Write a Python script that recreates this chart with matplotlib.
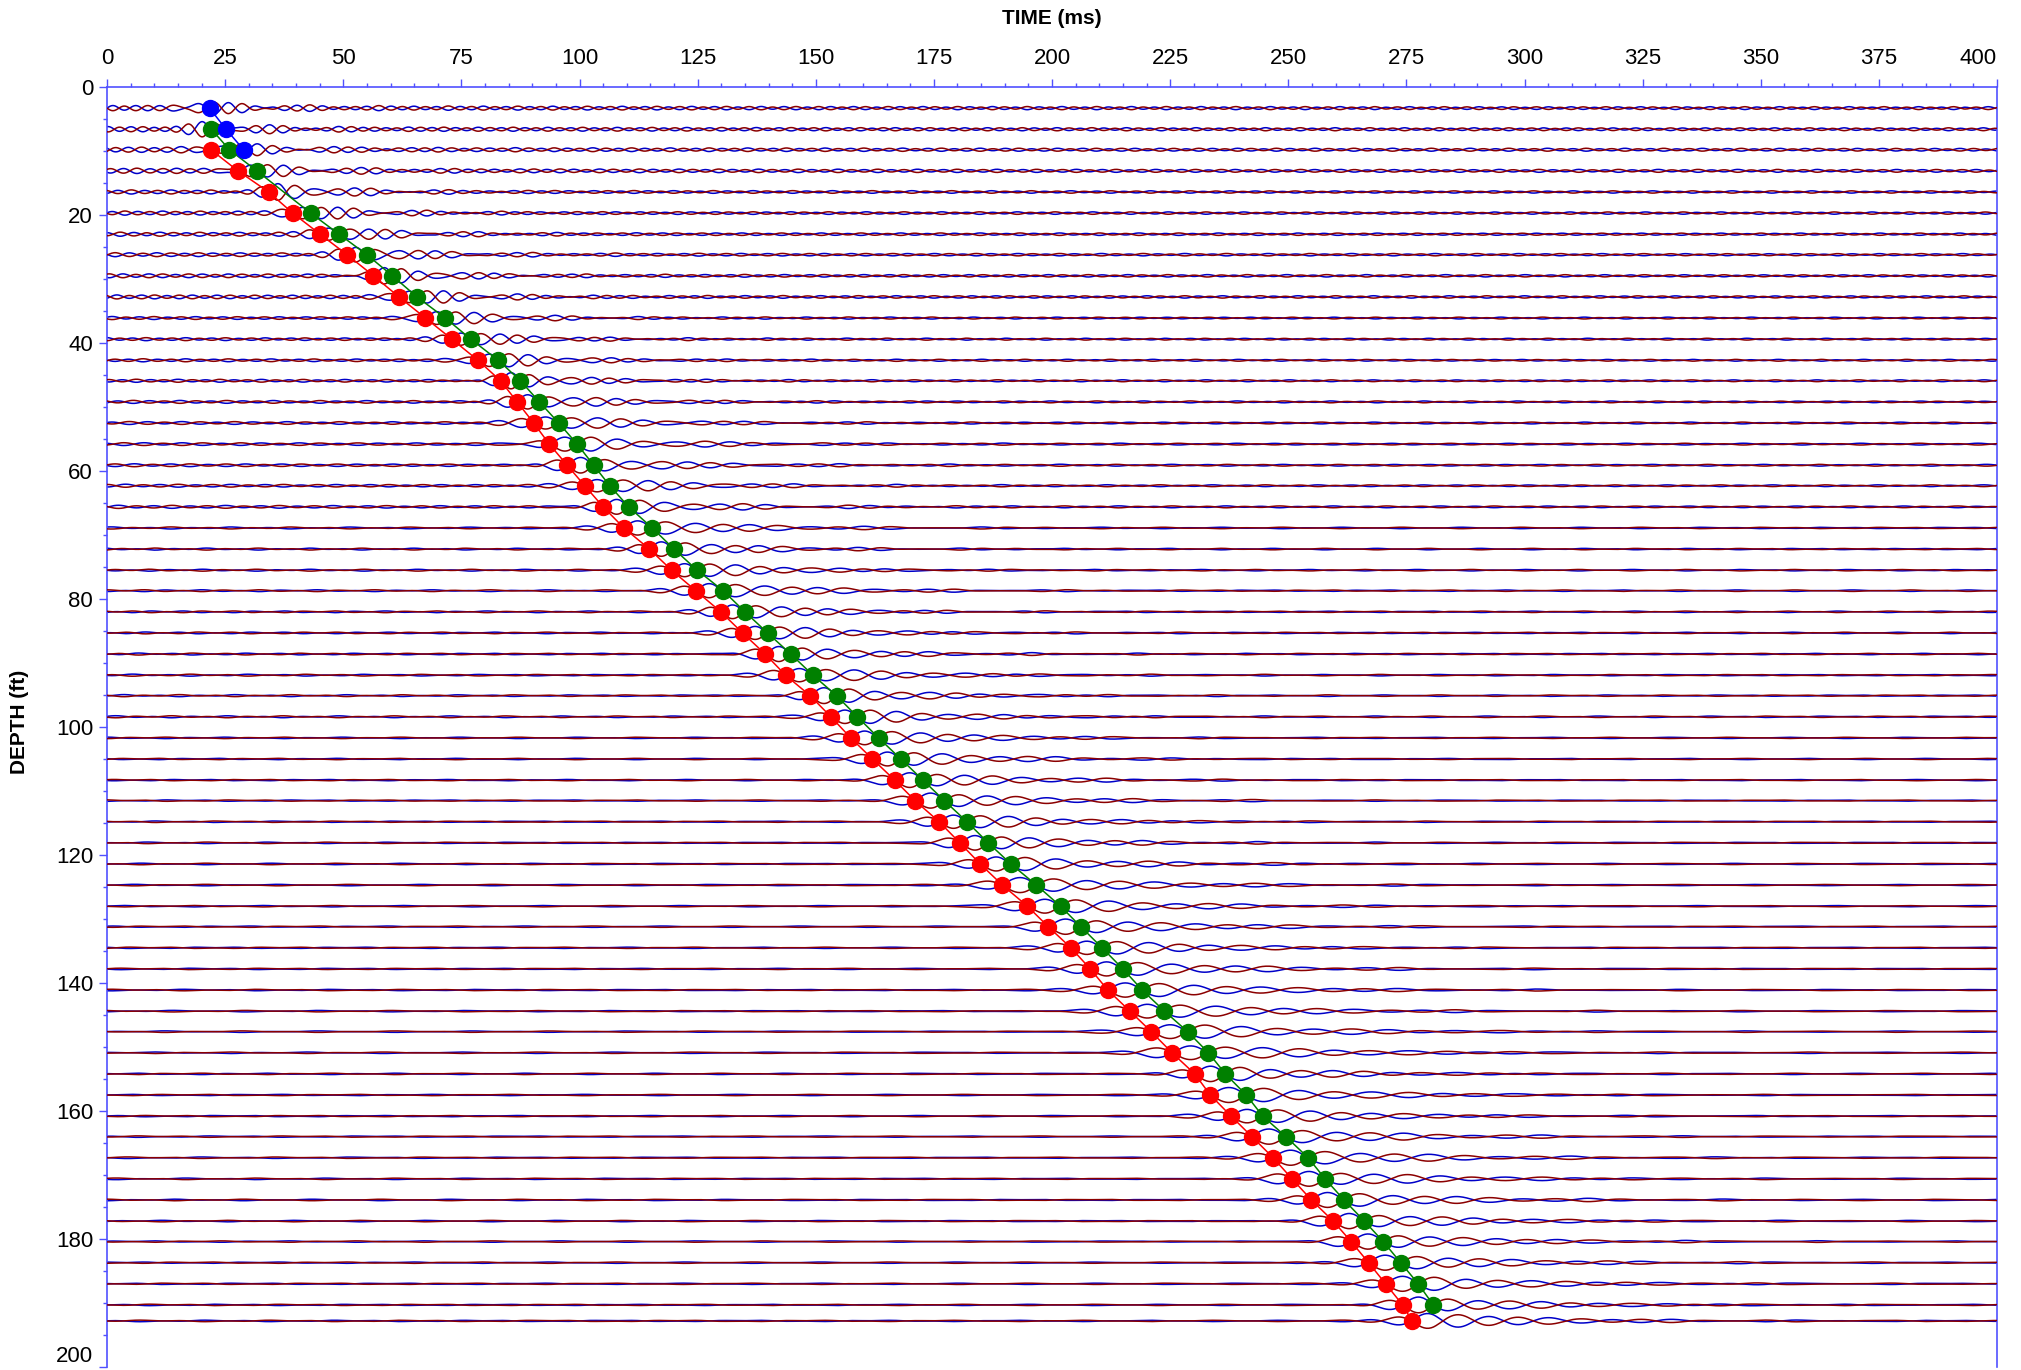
import numpy as np
import matplotlib
matplotlib.use('Agg')
import matplotlib.pyplot as plt
from matplotlib.ticker import MultipleLocator

plt.rcParams['font.family'] = ['Liberation Sans', 'DejaVu Sans']
plt.rcParams['xtick.labelsize'] = 16
plt.rcParams['ytick.labelsize'] = 16

axis_blue = '#5050ff'
trace_blue = '#0000c8'
trace_red = '#8b0000'

# receiver depths (ft), one trace per metre
depth_ft = [3.3, 6.6, 9.8, 13.1, 16.4, 19.7, 23.0, 26.2, 29.5, 32.8,
            36.1, 39.4, 42.7, 45.9, 49.2, 52.5, 55.8, 59.1, 62.3, 65.6,
            68.9, 72.2, 75.5, 78.7, 82.0, 85.3, 88.6, 91.9, 95.1, 98.4,
            101.7, 105.0, 108.3, 111.5, 114.8, 118.1, 121.4, 124.7, 128.0, 131.2,
            134.5, 137.8, 141.1, 144.4, 147.6, 150.9, 154.2, 157.5, 160.8, 164.0,
            167.3, 170.6, 173.9, 177.2, 180.4, 183.7, 187.0, 190.3, 192.8]

nan = np.nan
# picked times (ms) per trace
red_pick_ms = [nan, nan, 22.0, 27.7, 34.2, 39.3, 45.1, 50.8, 56.4, 61.8,
               67.4, 73.0, 78.5, 83.3, 86.8, 90.3, 93.6, 97.4, 101.1, 105.0,
               109.4, 114.8, 119.5, 124.6, 129.9, 134.5, 139.3, 143.6, 148.8, 153.2,
               157.4, 162.0, 166.7, 171.0, 176.1, 180.5, 184.8, 189.5, 194.8, 199.2,
               204.0, 208.1, 211.8, 216.5, 221.0, 225.4, 230.2, 233.5, 237.9, 242.3,
               246.8, 250.8, 254.9, 259.5, 263.3, 267.0, 270.6, 274.2, 276.2]
green_pick_ms = [nan, 22.1, 25.9, 31.7, nan, 43.1, 49.1, 55.0, 60.4, 65.6,
                 71.6, 77.0, 82.8, 87.5, 91.5, 95.6, 99.5, 103.0, 106.4, 110.4,
                 115.4, 120.0, 124.9, 130.4, 135.0, 139.8, 144.7, 149.4, 154.4, 158.8,
                 163.3, 168.0, 172.7, 177.2, 182.0, 186.5, 191.3, 196.7, 201.8, 206.1,
                 210.6, 215.0, 219.1, 223.8, 228.7, 233.1, 236.7, 241.1, 244.6, 249.5,
                 254.2, 257.8, 261.8, 266.1, 270.1, 273.8, 277.5, 280.7, nan]
blue_pick_ms = [21.7, 25.2, 28.9] + [nan] * 56

# onset of the two shallowest wavelets (no red pick there)
shallow_onset_ms = [17.0, 18.6]

# wavelet amplitude and background ripple read per trace (ft)
signal_ft = [0.9] * 4 + [1.1] * 16 + [1.15] * 39
fast_noise_ft = [0.38] * 4 + [0.28] * 6 + [0.2] * 10 + [0.1] * 10 + [0.06] * 29
slow_noise_ft = [0.05] * 20 + [0.07] * 39

fig = plt.figure(figsize=(20.21, 13.70), dpi=100)
ax = fig.add_axes([107 / 2021, 3 / 1370, 1890 / 2021, 1280 / 1370])

t = np.arange(0, 400.25, 0.25)
prev_h = 3.5
for k, d in enumerate(depth_ft):
    t0 = red_pick_ms[k] if k >= 2 else shallow_onset_ms[k]
    if not np.isnan(green_pick_ms[k]):
        prev_h = green_pick_ms[k] - t0
    h = prev_h
    u = (t - t0) / h
    env = np.where(u < 0.7, np.exp(-((u - 0.7) / 1.6) ** 2), np.exp(-(u - 0.7) / 4.0))
    wave = signal_ft[k] * env * np.sin(np.pi * u)
    hn = 0.7 * h
    ripple = (fast_noise_ft[k] * (0.45 + 0.55 * np.exp(-t / 100)) * np.sin(np.pi * t / hn + 1.3 * k)
              + slow_noise_ft[k] * np.sin(np.pi * t / (3.1 * hn) + 0.7 * k))
    s = wave + ripple
    ax.plot(t, d - s, color=trace_blue, lw=1.1, zorder=2)
    ax.plot(t, d + s, color=trace_red, lw=1.1, zorder=3)

# pick lines and markers
for picks, col in [(red_pick_ms, '#ff0000'), (green_pick_ms, '#008000'), (blue_pick_ms, '#0000ff')]:
    p = np.array(picks)
    dd = np.array(depth_ft)
    ok = ~np.isnan(p)
    ax.plot(p[ok], dd[ok], color=col, lw=1.1, zorder=4)
    ax.plot(p[ok], dd[ok], 'o', color=col, ms=11.5, mec=col, zorder=5)

ax.set_xlim(0, 400)
ax.set_ylim(200, 0)
ax.xaxis.tick_top()
ax.set_xticks(range(0, 401, 25))
ax.xaxis.set_minor_locator(MultipleLocator(5))
ax.set_yticks(range(0, 201, 20))
ax.yaxis.set_minor_locator(MultipleLocator(5))
ax.tick_params(which='major', length=6, width=1, color=axis_blue, pad=7)
ax.tick_params(which='minor', length=3, width=1, color=axis_blue)
ax.tick_params(axis='y', which='major', pad=4)
for side in ['top', 'left', 'right']:
    ax.spines[side].set_color(axis_blue)
    ax.spines[side].set_linewidth(1.2)
ax.spines['bottom'].set_visible(False)
ax.get_yticklabels()[-1].set_va('bottom')
ax.get_xticklabels()[-1].set_ha('right')

fig.text(1052 / 2021, 1 - 18 / 1370, 'TIME (ms)', ha='center', va='center',
         fontsize=15, fontweight='bold')
fig.text(20 / 2021, 1 - 722 / 1370, 'DEPTH (ft)', ha='center', va='center',
         rotation=90, fontsize=15, fontweight='bold')

plt.savefig('out.png', dpi=100)
